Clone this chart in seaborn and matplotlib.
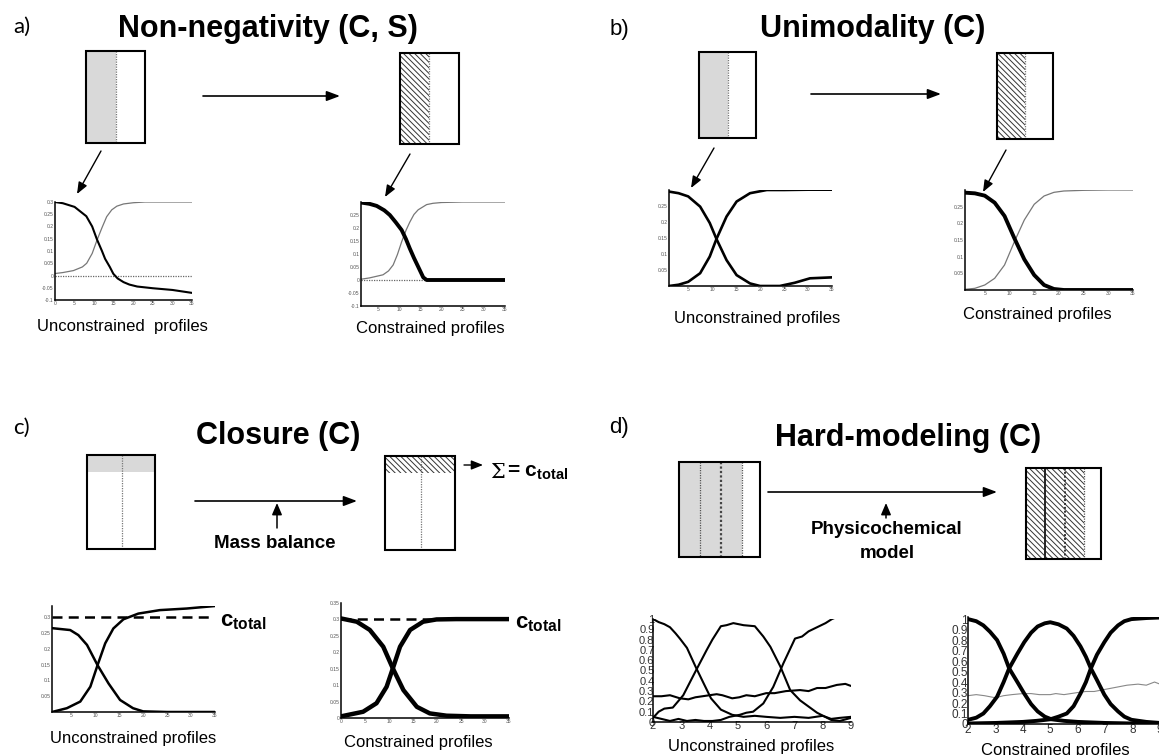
import matplotlib
matplotlib.use("Agg")
import matplotlib.pyplot as plt
import seaborn as sns
from matplotlib.patches import Rectangle

# ---------------------------------------------------------------- data
# a) Non-negativity: unconstrained profiles
a_unc_x1 = [0, 2, 5, 8, 9.5, 10.7, 12, 12.8, 14, 14.9, 16, 17.5, 19, 21, 25, 30, 35]
a_unc_y1 = [0.300, 0.295, 0.280, 0.242, 0.200, 0.148, 0.100, 0.068, 0.035, 0.007,
            -0.012, -0.027, -0.037, -0.045, -0.052, -0.059, -0.071]
a_unc_x2 = [0, 2, 4.7, 7, 8.1, 9.5, 10.7, 12, 13.2, 14.5, 15.8, 17.5, 20, 23, 35]
a_unc_y2 = [0.008, 0.012, 0.020, 0.035, 0.050, 0.090, 0.143, 0.195, 0.240, 0.268,
            0.283, 0.292, 0.297, 0.300, 0.300]
# a) Non-negativity: constrained profiles
a_con_x1 = [1, 3, 4.7, 6.5, 7.8, 9.2, 10.6, 11.6, 12.5, 13.5, 14.5, 15.7, 16.5, 20, 25, 30, 35]
a_con_y1 = [0.298, 0.293, 0.285, 0.268, 0.250, 0.222, 0.192, 0.158, 0.122, 0.085,
            0.051, 0.010, 0.0, 0.0, 0.0, 0.0, 0.0]
a_con_x2 = [1, 3, 6.2, 7.5, 8.6, 9.6, 10.6, 11.6, 12.5, 13.5, 14.5, 16.5, 18, 20, 25, 35]
a_con_y2 = [0.003, 0.008, 0.020, 0.035, 0.058, 0.098, 0.147, 0.190, 0.222, 0.252,
            0.270, 0.290, 0.295, 0.298, 0.300, 0.300]

# b) Unimodality
b_unc_x1 = [1, 3, 5, 7.5, 9.5, 10.9, 13, 15.1, 17.9, 20, 22, 24.1, 27.2, 30.4, 35]
b_unc_y1 = [0.295, 0.290, 0.280, 0.248, 0.197, 0.147, 0.081, 0.034, 0.008, 0.0,
            0.0, 0.0, 0.010, 0.024, 0.027]
b_unc_x2 = [1, 3, 5, 7.5, 9.5, 10.9, 13, 15.1, 17.9, 21.4, 25, 30, 35]
b_unc_y2 = [0.0, 0.004, 0.013, 0.040, 0.092, 0.147, 0.217, 0.264, 0.290, 0.300,
            0.300, 0.301, 0.301]
b_con_x1 = [1, 3, 5, 7, 9, 11, 13, 15, 17, 19, 21, 25, 30, 35]
b_con_y1 = [0.292, 0.290, 0.283, 0.262, 0.222, 0.155, 0.092, 0.045, 0.015, 0.003,
            0.0, 0.0, 0.0, 0.0]
b_con_x2 = [1, 3, 5, 7, 9, 11, 13, 15, 17, 19, 21, 25, 30, 35]
b_con_y2 = [0.002, 0.005, 0.015, 0.035, 0.075, 0.145, 0.210, 0.257, 0.282, 0.293,
            0.297, 0.299, 0.300, 0.300]

# c) Closure
c_total = 0.3
c_unc_x1 = [1, 4.8, 6.5, 8.3, 10.5, 12.8, 15.2, 17.9, 20, 25, 30, 35]
c_unc_y1 = [0.265, 0.259, 0.243, 0.212, 0.148, 0.090, 0.038, 0.012, 0.002, 0.0, 0.0, 0.0]
c_unc_x2 = [1, 4.1, 6.9, 9.0, 10.5, 12.1, 13.8, 15.9, 19, 23.5, 29.1, 35]
c_unc_y2 = [0.0, 0.012, 0.033, 0.080, 0.148, 0.217, 0.264, 0.293, 0.311, 0.322,
            0.327, 0.335]
c_con_x1 = [0, 3.3, 6, 8.8, 10.8, 13, 15.8, 18.5, 22, 27, 35]
c_con_y1 = [0.303, 0.293, 0.268, 0.217, 0.151, 0.085, 0.034, 0.014, 0.007, 0.005, 0.005]
c_con_x2 = [0, 4.6, 7.4, 9.5, 10.8, 12.3, 14.4, 17.1, 19.9, 24, 30, 35]
c_con_y2 = [0.005, 0.019, 0.045, 0.095, 0.151, 0.217, 0.268, 0.293, 0.300, 0.301,
            0.301, 0.301]

# d) Hard-modeling: unconstrained profiles
d_unc_xA = [2.0, 2.2, 2.4, 2.6, 2.8, 2.95, 3.2, 3.5, 3.8, 4.05, 4.4, 4.8, 5.2, 5.6,
            6.0, 6.5, 7.0, 7.5, 8.0, 8.3, 8.6, 9.0]
d_unc_yA = [1.00, 0.97, 0.95, 0.92, 0.86, 0.81, 0.72, 0.54, 0.37, 0.23, 0.12, 0.07,
            0.05, 0.06, 0.05, 0.04, 0.05, 0.04, 0.06, 0.03, 0.04, 0.05]
d_unc_xB = [2.0, 2.2, 2.4, 2.7, 3.07, 3.5, 3.9, 4.1, 4.4, 4.6, 4.84, 5.2, 5.6, 5.9,
            6.15, 6.5, 6.85, 7.2, 7.5, 7.8, 8.3, 8.6, 9.0]
d_unc_yB = [0.04, 0.10, 0.13, 0.14, 0.26, 0.49, 0.70, 0.80, 0.93, 0.94, 0.96, 0.94,
            0.93, 0.83, 0.73, 0.54, 0.31, 0.21, 0.15, 0.09, 0.02, 0.01, 0.04]
d_unc_xC = [2.0, 2.3, 2.6, 2.9, 3.2, 3.5, 3.8, 4.1, 4.4, 4.7, 5.07, 5.3, 5.54, 5.9,
            6.25, 6.61, 7.02, 7.27, 7.5, 7.8, 8.1, 8.33, 8.6, 9.0]
d_unc_yC = [0.05, 0.03, 0.01, 0.03, 0.01, 0.02, 0.01, 0.01, 0.02, 0.05, 0.07, 0.09,
            0.10, 0.18, 0.34, 0.57, 0.81, 0.83, 0.88, 0.92, 0.96, 1.00, 1.03, 1.05]
d_unc_xD = [2.0, 2.3, 2.6, 2.95, 3.25, 3.5, 3.75, 4.0, 4.25, 4.45, 4.8, 5.05, 5.3,
            5.6, 6.0, 6.3, 6.7, 7.2, 7.5, 7.8, 8.1, 8.5, 8.8, 9.0]
d_unc_yD = [0.25, 0.25, 0.26, 0.23, 0.22, 0.24, 0.25, 0.26, 0.27, 0.26, 0.23, 0.24,
            0.26, 0.25, 0.28, 0.28, 0.30, 0.31, 0.30, 0.33, 0.33, 0.36, 0.37, 0.35]
# d) Hard-modeling: constrained profiles
d_con_xA = [2.0, 2.3, 2.56, 2.8, 3.06, 3.3, 3.5, 3.8, 4.05, 4.3, 4.54, 4.8, 5.04,
            5.5, 6.0, 7.0, 8.0, 9.0]
d_con_yA = [1.00, 0.98, 0.94, 0.88, 0.80, 0.67, 0.53, 0.40, 0.29, 0.19, 0.12, 0.07,
            0.045, 0.03, 0.02, 0.01, 0.005, 0.0]
d_con_xB = [2.0, 2.3, 2.56, 2.8, 3.06, 3.3, 3.5, 3.8, 4.05, 4.3, 4.54, 4.8, 5.0, 5.3,
            5.6, 5.85, 6.1, 6.3, 6.48, 6.7, 6.97, 7.2, 7.47, 7.7, 7.96, 8.5, 9.0]
d_con_yB = [0.04, 0.06, 0.10, 0.17, 0.26, 0.40, 0.53, 0.67, 0.78, 0.87, 0.93, 0.96,
            0.97, 0.95, 0.91, 0.84, 0.74, 0.64, 0.53, 0.42, 0.28, 0.19, 0.12, 0.07,
            0.04, 0.02, 0.01]
d_con_xC = [2.0, 3.0, 4.0, 4.5, 5.0, 5.3, 5.6, 5.85, 6.1, 6.3, 6.48, 6.7, 6.97, 7.2,
            7.47, 7.7, 7.96, 8.5, 9.0]
d_con_yC = [0.005, 0.01, 0.02, 0.03, 0.045, 0.07, 0.10, 0.17, 0.29, 0.40, 0.53, 0.66,
            0.78, 0.87, 0.94, 0.98, 1.00, 1.01, 1.015]
d_con_xD = [2.0, 2.3, 2.6, 3.0, 3.3, 3.6, 4.0, 4.3, 4.6, 5.0, 5.2, 5.5, 6.0, 6.3,
            6.6, 7.0, 7.4, 7.8, 8.2, 8.5, 8.8, 9.0]
d_con_yD = [0.27, 0.28, 0.27, 0.25, 0.27, 0.28, 0.29, 0.29, 0.28, 0.28, 0.29, 0.28,
            0.30, 0.31, 0.31, 0.33, 0.35, 0.37, 0.38, 0.37, 0.40, 0.38]

# tick values
x_0_35 = [0, 5, 10, 15, 20, 25, 30, 35]
x_5_35 = [5, 10, 15, 20, 25, 30, 35]
y_neg = [-0.1, -0.05, 0, 0.05, 0.1, 0.15, 0.2, 0.25, 0.3]
y_pos = [0, 0.05, 0.1, 0.15, 0.2, 0.25, 0.3, 0.35]
x_2_9 = [2, 3, 4, 5, 6, 7, 8, 9]
y_0_1 = [0, 0.1, 0.2, 0.3, 0.4, 0.5, 0.6, 0.7, 0.8, 0.9, 1.0]

# ---------------------------------------------------------------- figure
sns.set_theme(style="white")
plt.rcParams["font.family"] = ["Liberation Sans", "DejaVu Sans"]
plt.rcParams["text.color"] = "black"
plt.rcParams["mathtext.fontset"] = "custom"
plt.rcParams["mathtext.bf"] = "Liberation Sans:bold"
plt.rcParams["mathtext.rm"] = "Liberation Sans"
plt.rcParams["hatch.linewidth"] = 0.7

W, H = 1159, 755
fig = plt.figure(figsize=(W / 100, H / 100), dpi=100)
fig.patch.set_facecolor("white")

# pixel-space canvas for the schematic parts
bg = fig.add_axes([0, 0, 1, 1])
bg.set_xlim(0, W)
bg.set_ylim(H, 0)
bg.axis("off")


def fmt(v):
    return "%g" % v


def profile_axes(x0, y0, x1, y1, xlim, ylim, xticks, yticks, size=3.6, tcolor="#555555", pad=1.0):
    ax = fig.add_axes([x0 / W, 1 - y1 / H, (x1 - x0) / W, (y1 - y0) / H])
    ax.set_facecolor("none")
    for s in ("top", "right"):
        ax.spines[s].set_visible(False)
    for s in ("left", "bottom"):
        ax.spines[s].set_color("black")
        ax.spines[s].set_linewidth(1.1)
    ax.set_xlim(*xlim)
    ax.set_ylim(*ylim)
    ax.set_xticks(xticks, labels=[fmt(v) for v in xticks])
    ax.set_yticks(yticks, labels=[fmt(v) for v in yticks])
    ax.tick_params(direction="in", length=2, width=0.6, labelsize=size,
                   pad=pad, colors="black", labelcolor=tcolor)
    return ax


def curve(ax, xs, ys, color="black", lw=1.5, **kw):
    sns.lineplot(x=xs, y=ys, ax=ax, color=color, linewidth=lw,
                 estimator=None, sort=False, legend=False, **kw)
    ax.set_xlabel("")
    ax.set_ylabel("")


def arrow(x0, y0, x1, y1, lw=1.2, hl=0.8, hw=0.3, scale=10):
    bg.annotate("", xy=(x1, y1), xytext=(x0, y0),
                arrowprops=dict(arrowstyle=f"-|>,head_length={hl},head_width={hw}",
                                color="black", lw=lw, shrinkA=0, shrinkB=0,
                                mutation_scale=scale))


def frame(x0, y0, x1, y1):
    bg.add_patch(Rectangle((x0, y0), x1 - x0, y1 - y0, fill=False,
                           edgecolor="black", lw=1.5, zorder=4))


def gray(x0, y0, x1, y1):
    bg.add_patch(Rectangle((x0, y0), x1 - x0, y1 - y0, facecolor="#d9d9d9",
                           edgecolor="none", zorder=2))


def hatched(x0, y0, x1, y1):
    bg.add_patch(Rectangle((x0, y0), x1 - x0, y1 - y0, facecolor="white",
                           edgecolor="#333333", hatch="\\" * 6, lw=0, zorder=2))


def dotted(x0, y0, x1, y1, color="#777777", lw=0.9):
    bg.plot([x0, x1], [y0, y1], color=color, lw=lw, ls=(0, (1, 1)), zorder=3)


def label(x, y, s, size=12, weight="normal", family=None, ha="center"):
    kw = {}
    if family:
        kw["family"] = family
    bg.text(x, y, s, fontsize=size, fontweight=weight, ha=ha, va="center",
            color="black", **kw)


# ================================================================ a)
label(22, 27, "a)", size=16, family=["Lato", "DejaVu Sans"])
label(268, 29, "Non-negativity (C, S)", size=22, weight="bold")
gray(86, 51, 116, 143)
dotted(116, 51, 116, 143)
frame(86, 51, 145, 143)
hatched(400, 53, 429, 144)
dotted(429, 53, 429, 144)
frame(400, 53, 459, 144)
arrow(203, 96, 340, 96)
arrow(101, 151, 77, 194, lw=1.0, hl=0.7, hw=0.28)
arrow(410, 154, 385, 197, lw=1.0, hl=0.7, hw=0.28)

ax = profile_axes(55, 202, 192, 300, (0, 35), (-0.1, 0.3), x_0_35, y_neg)
ax.axhline(0, color="#666666", lw=0.9, ls=(0, (1, 1)))
curve(ax, a_unc_x2, a_unc_y2, color="#777777", lw=0.9)
curve(ax, a_unc_x1, a_unc_y1, color="black", lw=1.5)
label(122, 327, "Unconstrained  profiles", size=12)

ax = profile_axes(361, 202, 505, 306, (1, 35), (-0.1, 0.3), x_5_35, y_neg[:-1])
ax.axhline(0, color="#666666", lw=0.9, ls=(0, (1, 1)))
curve(ax, a_con_x2, a_con_y2, color="#777777", lw=0.9)
curve(ax, a_con_x1, a_con_y1, color="black", lw=2.8)
label(430, 328, "Constrained profiles", size=12)

# ================================================================ b)
label(619, 29, "b)", size=16)
label(873, 29, "Unimodality (C)", size=22, weight="bold")
gray(699, 52, 728, 138)
dotted(728, 52, 728, 138)
frame(699, 52, 756, 138)
hatched(997, 53, 1025, 139)
dotted(1025, 53, 1025, 139)
frame(997, 53, 1053, 139)
arrow(811, 94, 941, 94)
arrow(714, 148, 691, 188, lw=1.0, hl=0.7, hw=0.28)
arrow(1006, 150, 983, 192, lw=1.0, hl=0.7, hw=0.28)

ax = profile_axes(669, 190, 832, 286, (1, 35), (0, 0.3), x_5_35, y_pos[1:6])
curve(ax, b_unc_x1, b_unc_y1, color="black", lw=1.9)
curve(ax, b_unc_x2, b_unc_y2, color="black", lw=1.9)
label(757, 318, "Unconstrained profiles", size=12)

ax = profile_axes(965, 190, 1133, 290, (1, 35), (0, 0.3), x_5_35, y_pos[1:6])
curve(ax, b_con_x2, b_con_y2, color="#777777", lw=0.9)
curve(ax, b_con_x1, b_con_y1, color="black", lw=2.8)
label(1037, 315, "Constrained profiles", size=12)

# ================================================================ c)
label(21, 428, "c)", size=16, family=["Lato", "DejaVu Sans"])
label(278, 436, "Closure (C)", size=22, weight="bold")
gray(87, 455, 155, 472)
dotted(122, 455, 122, 549)
frame(87, 455, 155, 549)
hatched(385, 456, 455, 473)
dotted(421, 456, 421, 550)
frame(385, 456, 455, 550)
arrow(195, 501, 357, 501)
arrow(277, 528, 277, 503, lw=1.1, hl=0.7, hw=0.3)
label(275, 543, "Mass balance", size=13.5, weight="bold")
arrow(464, 465, 483, 465, lw=1.0, hl=0.7, hw=0.28)
bg.text(490, 472, "\u03a3", fontsize=15, family="DejaVu Serif", ha="left",
        va="center", color="black")
bg.text(507, 472, r"= $\mathbf{c_{total}}$", fontsize=15, fontweight="bold",
        ha="left", va="center", color="black")

ax = profile_axes(52, 606, 215, 712, (1, 35), (0, 0.335), x_5_35, y_pos[1:7])
ax.axhline(c_total, color="black", lw=1.8, ls=(0, (4, 2.5)))
curve(ax, c_unc_x1, c_unc_y1, color="black", lw=1.8)
curve(ax, c_unc_x2, c_unc_y2, color="black", lw=1.8)
bg.text(220, 622, r"$\mathbf{c_{total}}$", fontsize=16, ha="left", va="center",
        color="black")
label(133, 739, "Unconstrained profiles", size=12)

ax = profile_axes(341, 603, 509, 718, (0, 35), (0, 0.35), x_0_35, y_pos)
ax.axhline(c_total, color="black", lw=1.8, ls=(0, (4, 2.5)))
curve(ax, c_con_x1, c_con_y1, color="black", lw=3.2)
curve(ax, c_con_x2, c_con_y2, color="black", lw=3.2)
bg.text(515, 624, r"$\mathbf{c_{total}}$", fontsize=16, ha="left", va="center",
        color="black")
label(418, 742, "Constrained profiles", size=12)

# ================================================================ d)
label(619, 428, "d)", size=16)
label(908, 438, "Hard-modeling (C)", size=22, weight="bold")
gray(679, 462, 742, 557)
dotted(700, 462, 700, 557, color="#555555")
dotted(721, 462, 721, 557, color="#444444", lw=1.6)
dotted(742, 462, 742, 557, color="#555555")
frame(679, 462, 760, 557)
hatched(1026, 468, 1084, 559)
bg.plot([1045, 1045], [468, 559], color="#222222", lw=1.4, zorder=3)
dotted(1065, 468, 1065, 559, color="#333333", lw=1.4)
dotted(1084, 468, 1084, 559, color="#555555")
frame(1026, 468, 1101, 559)
arrow(768, 492, 997, 492)
arrow(886, 518, 886, 503, lw=1.1, hl=0.7, hw=0.3)
label(887, 530, "Physicochemical", size=13.5, weight="bold")
label(887, 553, "model", size=13.5, weight="bold")

ax = profile_axes(653, 619, 851, 722, (2, 9), (0, 1.0), x_2_9, y_0_1,
                  size=8, tcolor="#333333", pad=-1)
for xs, ys in ((d_unc_xA, d_unc_yA), (d_unc_xB, d_unc_yB),
               (d_unc_xC, d_unc_yC), (d_unc_xD, d_unc_yD)):
    curve(ax, xs, ys, color="black", lw=1.5)
label(751, 747, "Unconstrained profiles", size=12)

ax = profile_axes(968, 617, 1160, 724, (2, 9), (0, 1.02), x_2_9, y_0_1,
                  size=8.5, tcolor="#333333", pad=0)
curve(ax, d_con_xD, d_con_yD, color="#888888", lw=0.8)
for xs, ys in ((d_con_xA, d_con_yA), (d_con_xB, d_con_yB), (d_con_xC, d_con_yC)):
    curve(ax, xs, ys, color="black", lw=2.8)
label(1055, 750, "Constrained profiles", size=12)

fig.savefig("out.png", dpi=100, facecolor="white")
